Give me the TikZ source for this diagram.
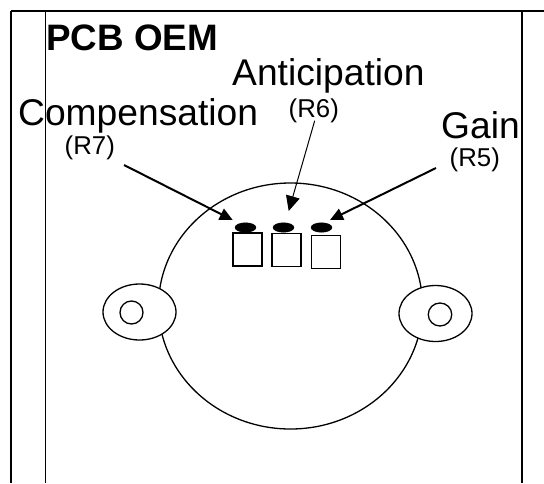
\documentclass[tikz,border=0pt]{standalone}
\usepackage{fontspec}
\setmainfont{Liberation Sans}
\usetikzlibrary{arrows.meta,shapes.geometric}
\tikzset{
  frameline/.style={draw=black,line width=1.2pt},
  topline/.style={draw=black,line width=1.6pt},
  outlinepart/.style={draw=black,line width=1.3pt,fill=white,ellipse,inner sep=0pt,outer sep=0pt},
  pot/.style={draw=black,fill=black,ellipse,minimum width=21pt,minimum height=9.5pt,inner sep=0pt},
  trimmer/.style={draw=black,line width=1.2pt,fill=white,inner sep=0pt,minimum width=29pt,minimum height=32pt},
  biglabel/.style={anchor=base west,inner sep=0pt,font=\fontsize{37.2}{40}\selectfont},
  titlelabel/.style={anchor=base west,inner sep=0pt,font=\fontsize{36.8}{40}\selectfont\bfseries},
  reflabel/.style={anchor=base west,inner sep=0pt,font=\fontsize{25.8}{28}\selectfont},
  pointer/.style={draw=black,line width=2pt,-{Triangle[length=13pt,width=12pt]}},
  thinpointer/.style={draw=black,line width=1pt,-{Triangle[length=15pt,width=14pt]}}
}
\begin{document}
\begin{tikzpicture}[x=1pt,y=-1pt]
\useasboundingbox (0,0) rectangle (544,483);
% frame
\coordinate (tl) at (11,11);
\coordinate (tr) at (544,11);
\coordinate (bl) at (11,483);
\coordinate (il) at (45.7,11);
\coordinate (ilb) at (45.7,483);
\coordinate (ir) at (522,11);
\coordinate (irb) at (522,483);
\draw[frameline] (tl) -- (bl);
\draw[frameline] (il) -- (ilb);
\draw[frameline] (ir) -- (irb);
\draw[topline] (tl) -- (tr);
% board
\node[outlinepart,minimum width=264pt,minimum height=246pt] (board) at (290.5,306) {};
\node[outlinepart,minimum width=73pt,minimum height=56pt] (earL) at (139.5,312) {};
\node[outlinepart,minimum width=23pt,minimum height=23pt] (holeL) at (131.5,312.5) {};
\node[outlinepart,minimum width=73pt,minimum height=56pt] (earR) at (435.5,313.5) {};
\node[outlinepart,minimum width=23.5pt,minimum height=23pt] (holeR) at (440,314.5) {};
% trimmers
\node[trimmer,minimum height=33pt] (t7) at (247.5,249.5) {};
\node[trimmer,minimum height=33pt] (t6) at (286.5,250) {};
\node[trimmer,minimum height=33.5pt] (t5) at (325.7,252) {};
\node[pot] (p7) at (245.5,227.5) {};
\node[pot] (p6) at (283.5,227.5) {};
\node[pot] (p5) at (321.5,227.5) {};
% labels
\node[titlelabel] (title) at (46,50.5) {PCB OEM};
\node[biglabel] (ant) at (232,85) {Anticipation};
\node[biglabel] (comp) at (18,125) {Compensation};
\node[biglabel] (gain) at (441,138) {Gain};
\node[reflabel] (r7) at (64.5,154) {(R7)};
\node[reflabel] (r6) at (288.5,117) {(R6)};
\node[reflabel] (r5) at (449.5,166) {(R5)};
% arrows
\coordinate (a7) at (124,165);
\coordinate (b7) at (232.7,220);
\coordinate (a6) at (314.7,120.7);
\coordinate (b6) at (288.7,211);
\coordinate (a5) at (436,168);
\coordinate (b5) at (330,220);
\draw[pointer] (a7) -- (b7);
\draw[thinpointer] (a6) -- (b6);
\draw[pointer] (a5) -- (b5);
\end{tikzpicture}
\end{document}
